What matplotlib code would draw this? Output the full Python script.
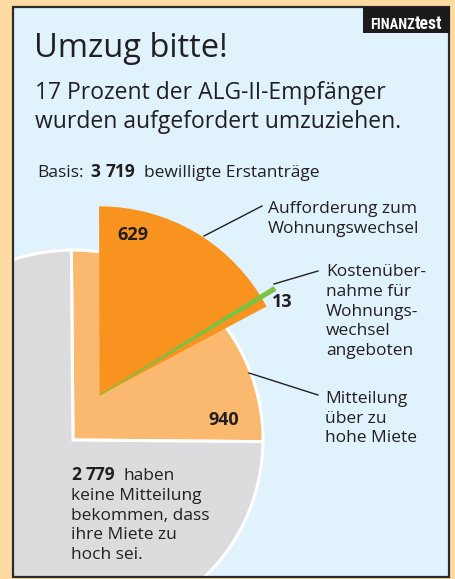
import math
import matplotlib.pyplot as plt
from matplotlib.patches import Rectangle

W, H = 455, 579

total = 3719
outer_labels = ["Mitteilung über zu hohe Miete", "keine Mitteilung"]
outer_values = [940, 2779]
request_labels = ["Aufforderung zum Wohnungswechsel", "Kostenübernahme angeboten"]
request_values = [629, 13]

C_BG = "#FEDAA3"
C_PANEL = "#E0F2FC"
C_GREY = "#DCDCDE"
C_LIGHT = "#FBB970"
C_DARK = "#F7931E"
C_GREEN = "#7DC142"
C_TEXT = "#231F20"

FONT = ["Open Sans", "DejaVu Sans"]

fig = plt.figure(figsize=(W / 100, H / 100), dpi=100, facecolor=C_BG)
ax = fig.add_axes([0, 0, 1, 1])
ax.set_facecolor(C_BG)


def y(p):
    # pixel row -> data y
    return H - p


PX0, PX1, PY0, PY1 = 13, 449, 7, 577
ax.add_patch(Rectangle((PX0, y(PY1)), PX1 - PX0, PY1 - PY0, facecolor=C_PANEL,
                       edgecolor="none", zorder=1))

# main pie
cx, cy, r = 73, y(440), 190
outer, _ = ax.pie(outer_values, colors=[C_LIGHT, C_GREY], startangle=-0.5,
                  counterclock=True, center=(cx, cy), radius=r,
                  wedgeprops=dict(edgecolor="white", linewidth=2.2), frame=True)

# pulled out part: requests to move
req_sum = sum(request_values)
start = (outer_values[0] - req_sum) / total * 360 - 0.8
mid = math.radians(start + req_sum / total * 180)
shift = 52
gx, gy = cx + shift * math.cos(mid), cy + shift * math.sin(mid)
group, _ = ax.pie([req_sum, total - req_sum], colors=[C_DARK, "none"],
                  startangle=start, counterclock=True, center=(gx, gy), radius=189,
                  wedgeprops=dict(linewidth=0), frame=True)
green, _ = ax.pie([request_values[1], total - request_values[1]], colors=[C_GREEN, "none"],
                  startangle=start + 2.7, counterclock=True, center=(gx, gy),
                  radius=205, wedgeprops=dict(linewidth=0.6, edgecolor=C_GREEN), frame=True)
green[1].set_edgecolor("none")

for w in list(outer) + list(group) + list(green):
    w.set_zorder(2)

# frame margins painted over the pie, then the panel border
for x0, y0, ww, hh in [(0, 0, PX0, H), (PX1, 0, W - PX1, H),
                       (0, y(PY0), W, PY0), (0, 0, W, H - PY1)]:
    ax.add_patch(Rectangle((x0, y0), ww, hh, facecolor=C_BG, edgecolor="none", zorder=8))
ax.add_patch(Rectangle((PX0, y(PY1)), PX1 - PX0, PY1 - PY0, facecolor="none",
                       edgecolor="#2b2b2b", lw=1.6, zorder=9))

ax.set_xlim(0, W)
ax.set_ylim(0, H)
ax.set_aspect("auto")
ax.axis("off")

renderer = fig.canvas.get_renderer()


def txt(x, p, s, size, weight="normal", **kw):
    return ax.text(x, y(p), s, fontsize=size, fontweight=weight, color=C_TEXT,
                   family=FONT, va="baseline", ha="left", zorder=5, **kw)


def run(x, p, parts, size):
    # consecutive pieces of one line: (text, weight, gap after)
    for s, weight, gap in parts:
        t = txt(x, p, s, size, weight)
        x += t.get_window_extent(renderer).width + gap


# logo, squeezed into its box
ax.add_patch(Rectangle((363, y(33)), 87, 26, facecolor="#1c1a1b", edgecolor="none", zorder=10))
logo_font = ["Roboto Condensed", "Liberation Sans", "DejaVu Sans"]
a = ax.text(370, y(29), "FINANZ", fontsize=11, fontweight="bold", color="white",
            family=logo_font, ha="left", va="baseline", zorder=11)
b = ax.text(0, y(29), "test", fontsize=13.5, fontweight="bold", color="white",
            family=logo_font, ha="left", va="baseline", zorder=11)
wa = a.get_window_extent(renderer).width
wb = b.get_window_extent(renderer).width
k = min(1.0, 72 / (wa + wb))
a.set_fontsize(11 * k)
b.set_fontsize(13.5 * k)
b.set_x(370 + a.get_window_extent(renderer).width)

txt(34, 57, "Umzug bitte!", 23.5)
txt(35, 99, "17 Prozent der ALG-II-Empfänger", 16.5)
txt(35, 128, "wurden aufgefordert umzuziehen.", 16.5)
run(37, 177, [("Basis:", "normal", 7), (str(total // 1000), "bold", 5),
              (str(total % 1000), "bold", 9), ("bewilligte Erstanträge", "normal", 0)], 12.5)

# values
txt(117, 240, str(request_values[0]), 13, "bold")
txt(272, 307, str(request_values[1]), 13, "bold")
txt(208, 425, str(outer_values[0]), 13, "bold")

# labels
for i, s in enumerate(["Aufforderung zum", "Wohnungswechsel"]):
    txt(268, 213 + 20 * i, s, 12.5)
for i, s in enumerate(["Kostenüber-", "nahme für", "Wohnungs-", "wechsel", "angeboten"]):
    txt(326, 276 + 19.8 * i, s, 12.5)
for i, s in enumerate(["Mitteilung", "über zu", "hohe Miete"]):
    txt(325, 403 + 19.6 * i, s, 12.5)

run(71, 480, [(str(outer_values[1] // 1000), "bold", 5), (str(outer_values[1] % 1000), "bold", 8),
              ("haben", "normal", 0)], 12.5)
for i, s in enumerate(["keine Mitteilung", "bekommen, dass", "ihre Miete zu", "hoch sei."]):
    txt(71, 500 + 19.6 * i, s, 12.5)

# leader lines
for (x0, p0), (x1, p1) in [((204, 236), (262, 206)),
                           ((274, 284), (318, 271)),
                           ((249, 373), (318, 395))]:
    ax.plot([x0, x1], [y(p0), y(p1)], color=C_TEXT, lw=1, zorder=4)

fig.savefig("out.png", dpi=100, facecolor=C_BG)
